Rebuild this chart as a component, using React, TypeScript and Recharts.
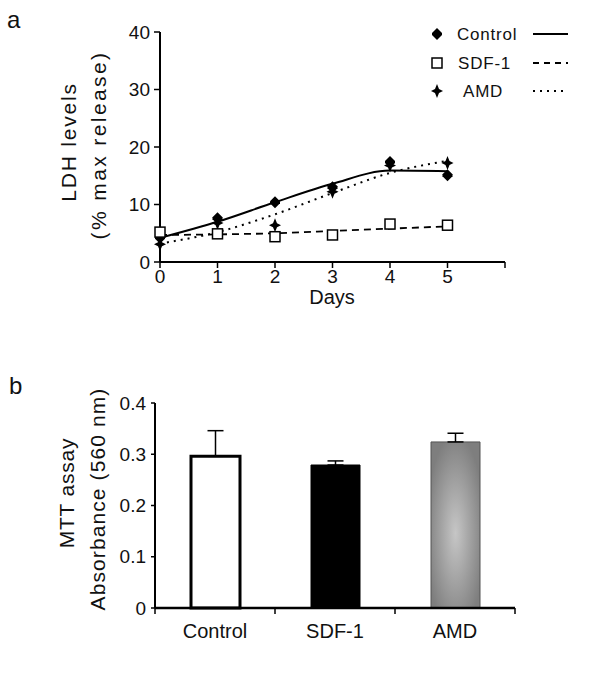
import React from "react";
import {
  ComposedChart,
  BarChart,
  Bar,
  Line,
  XAxis,
  YAxis,
  ErrorBar,
  Cell,
} from "recharts";

// panel a: LDH release over days
const days = [0, 1, 2, 3, 4, 5];
const controlPts = [4.2, 7.6, 10.4, 13.0, 17.4, 15.1];
const sdfPts = [5.2, 4.9, 4.4, 4.7, 6.6, 6.4];
const amdPts = [3.1, 6.8, 6.4, 12.2, 16.8, 17.2];
const controlFit = [4.2, 7.0, 10.4, 13.6, 15.9, 15.8];
const sdfFit = [4.7, 4.8, 5.0, 5.4, 5.8, 6.2];
const amdFit = [3.2, 5.2, 8.3, 12.0, 15.5, 17.6];
const dayTicks = [0, 1, 2, 3, 4, 5, 6];
const ldhTicks = [0, 10, 20, 30, 40];

// panel b: MTT assay
const groups = ["Control", "SDF-1", "AMD"];
const mttMeans = [0.296, 0.279, 0.324];
const mttErr = [0.05, 0.008, 0.017];
const mttTicks = [0, 0.1, 0.2, 0.3, 0.4];

const FONT = "'Liberation Sans', Arial, sans-serif";

const lineData = days.map((d, i) => ({
  day: d,
  control: controlPts[i],
  sdf: sdfPts[i],
  amd: amdPts[i],
  controlFit: controlFit[i],
  sdfFit: sdfFit[i],
  amdFit: amdFit[i],
}));

const barData = groups.map((g, i) => ({
  name: g,
  pos: i + 0.5,
  value: mttMeans[i],
  err: [0, mttErr[i]],
}));

const diamondPath = (cx: number, cy: number) =>
  `M${cx},${cy - 6} L${cx + 5},${cy - 1} L${cx + 5},${cy + 1} L${cx},${cy + 6} L${cx - 5},${cy + 1} L${cx - 5},${cy - 1} Z`;
const starPath = (cx: number, cy: number) =>
  `M${cx},${cy - 7} L${cx + 2},${cy - 2} L${cx + 6},${cy} L${cx + 2},${cy + 2} L${cx},${cy + 7} L${cx - 2},${cy + 2} L${cx - 6},${cy} L${cx - 2},${cy - 2} Z`;

const DiamondDot = (p: any) =>
  p.cx == null ? <g key={p.index} /> : <path key={p.index} d={diamondPath(p.cx, p.cy)} fill="#000" />;
const StarDot = (p: any) =>
  p.cx == null ? <g key={p.index} /> : <path key={p.index} d={starPath(p.cx, p.cy)} fill="#000" />;
const SquareDot = (p: any) =>
  p.cx == null ? (
    <g key={p.index} />
  ) : (
    <rect key={p.index} x={p.cx - 5} y={p.cy - 5} width={10} height={10} fill="#fff" stroke="#000" strokeWidth={1.5} />
  );

const tickStyle = { fontSize: 19, fill: "#111", fontFamily: FONT };

// category labels sit at half positions, tick marks at band edges
// (p.y = axis line + tickSize 6 + tickMargin 10)
const BarAxisTick = (p: any) => {
  const v = p.payload.value;
  if (Number.isInteger(v)) {
    return <line x1={p.x} x2={p.x} y1={p.y - 16} y2={p.y - 10} stroke="#000" strokeWidth={1.5} />;
  }
  return (
    <text x={p.x} y={p.y} dy="0.71em" textAnchor="middle" {...tickStyle} fontSize={20}>
      {groups[Math.floor(v)]}
    </text>
  );
};

const rotated = (left: number, top: number, size: number, spacing = 0): React.CSSProperties => ({
  position: "absolute",
  left,
  top,
  transform: "translate(-50%, -50%) rotate(-90deg)",
  whiteSpace: "nowrap",
  fontSize: size,
  letterSpacing: spacing,
  fontFamily: FONT,
  color: "#111",
});

const txt = (left: number, top: number, size: number): React.CSSProperties => ({
  position: "absolute",
  left,
  top,
  fontSize: size,
  fontFamily: FONT,
  color: "#111",
  lineHeight: 1,
  whiteSpace: "nowrap",
});

export default function App() {
  return (
    <div style={{ position: "absolute", left: 0, top: 0, width: 600, height: 694, background: "#fff" }}>
      <div style={txt(7, 8, 24)}>a</div>
      <div style={txt(9, 374, 24)}>b</div>

      <div style={rotated(69, 142, 21, 1.8)}>LDH levels</div>
      <div style={rotated(99, 145, 21, 2.4)}>(% max release)</div>
      <div style={{ ...txt(332, 297, 20), transform: "translate(-50%, -50%)" }}>Days</div>

      <div style={rotated(67, 493, 21, 0.8)}>MTT assay</div>
      <div style={rotated(98, 499, 21, 1.1)}>Absorbance (560 nm)</div>

      {/* legend for panel a */}
      <svg style={{ position: "absolute", left: 0, top: 0 }} width={600} height={110}>
        <path d={diamondPath(437, 34)} fill="#000" />
        <rect x={432} y={58} width={10} height={10} fill="#fff" stroke="#000" strokeWidth={1.5} />
        <path d={starPath(437, 91)} fill="#000" />
        <line x1={533} x2={568} y1={34} y2={34} stroke="#000" strokeWidth={2} />
        <line x1={533} x2={568} y1={63} y2={63} stroke="#000" strokeWidth={1.8} strokeDasharray="6 5" />
        <line x1={533} x2={568} y1={91} y2={91} stroke="#000" strokeWidth={1.8} strokeDasharray="2 5" />
      </svg>
      <div style={{ ...txt(457, 26, 17), letterSpacing: 0.8 }}>Control</div>
      <div style={{ ...txt(458, 55, 17), letterSpacing: 0.8 }}>SDF-1</div>
      <div style={{ ...txt(463, 83, 17), letterSpacing: 0.8 }}>AMD</div>

      <div style={{ position: "absolute", left: 0, top: 0 }}>
        <ComposedChart width={600} height={320} data={lineData} margin={{ top: 32, right: 95, left: 100, bottom: 28 }}>
          <XAxis
            dataKey="day"
            type="number"
            domain={[0, 6]}
            ticks={dayTicks}
            tickFormatter={(v) => (v === 6 ? "" : String(v))}
            height={30}
            tickSize={6}
            tickMargin={2}
            axisLine={{ stroke: "#000", strokeWidth: 2 }}
            tickLine={{ stroke: "#000", strokeWidth: 1.5 }}
            tick={tickStyle}
          />
          <YAxis
            type="number"
            domain={[0, 40]}
            ticks={ldhTicks}
            width={60}
            tickSize={6}
            tickMargin={4}
            axisLine={{ stroke: "#000", strokeWidth: 2 }}
            tickLine={{ stroke: "#000", strokeWidth: 1.5 }}
            tick={tickStyle}
          />
          <Line dataKey="controlFit" type="monotone" stroke="#000" strokeWidth={2} dot={false} activeDot={false} isAnimationActive={false} />
          <Line dataKey="sdfFit" type="monotone" stroke="#000" strokeWidth={1.8} strokeDasharray="7 5" dot={false} activeDot={false} isAnimationActive={false} />
          <Line dataKey="amdFit" type="monotone" stroke="#000" strokeWidth={2} strokeDasharray="2 5" dot={false} activeDot={false} isAnimationActive={false} />
          <Line dataKey="amd" stroke="none" dot={StarDot} activeDot={false} isAnimationActive={false} />
          <Line dataKey="control" stroke="none" dot={DiamondDot} activeDot={false} isAnimationActive={false} />
          <Line dataKey="sdf" stroke="none" dot={SquareDot} activeDot={false} isAnimationActive={false} />
        </ComposedChart>
      </div>

      <div style={{ position: "absolute", left: 0, top: 340 }}>
        <BarChart width={600} height={340} data={barData} margin={{ top: 63, right: 85, left: 95, bottom: 37 }}>
          <defs>
            <radialGradient id="amdGrad" cx="50%" cy="55%" r="60%">
              <stop offset="0%" stopColor="#c6c6c6" />
              <stop offset="100%" stopColor="#7e7e7e" />
            </radialGradient>
          </defs>
          <XAxis
            dataKey="pos"
            type="number"
            domain={[0, 3]}
            ticks={[0, 0.5, 1, 1.5, 2, 2.5, 3]}
            height={35}
            tickSize={6}
            tickMargin={10}
            tickLine={false}
            axisLine={{ stroke: "#000", strokeWidth: 2.5 }}
            tick={BarAxisTick}
          />
          <YAxis
            type="number"
            domain={[0, 0.4]}
            ticks={mttTicks}
            tickFormatter={(v) => (v === 0 ? "0" : v.toFixed(1))}
            width={60}
            tickSize={4}
            tickMargin={5}
            axisLine={{ stroke: "#000", strokeWidth: 2 }}
            tickLine={{ stroke: "#000", strokeWidth: 1.5 }}
            tick={tickStyle}
          />
          <Bar dataKey="value" barSize={49} isAnimationActive={false}>
            <Cell fill="#fff" stroke="#000" strokeWidth={3} />
            <Cell fill="#000" stroke="#000" strokeWidth={1} />
            <Cell fill="url(#amdGrad)" stroke="#555" strokeWidth={1} />
            <ErrorBar dataKey="err" width={8} stroke="#000" strokeWidth={1.5} direction="y" />
          </Bar>
        </BarChart>
      </div>
    </div>
  );
}
